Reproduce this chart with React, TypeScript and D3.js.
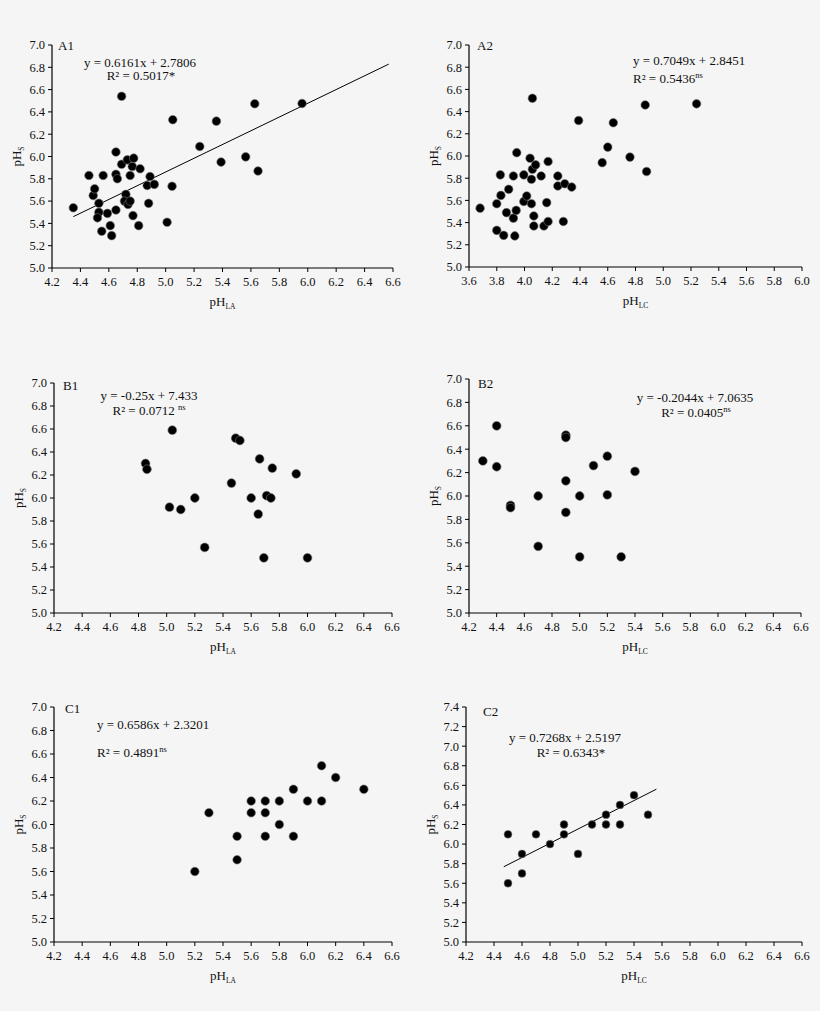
import React from 'react';
import * as d3 from 'd3';

// ---------- data ----------
const a1X = [4.35, 4.46, 4.49, 4.5, 4.53, 4.53, 4.52, 4.55, 4.56, 4.59, 4.61, 4.62, 4.65, 4.65, 4.66, 4.65, 4.69, 4.69, 4.72, 4.71, 4.735, 4.75, 4.73, 4.75, 4.765, 4.775, 4.77, 4.81, 4.82, 4.87, 4.89, 4.88, 4.92, 5.01, 5.045, 5.05, 5.24, 5.357, 5.39, 5.563, 5.65, 5.627, 5.96];
const a1Y = [5.54, 5.83, 5.65, 5.71, 5.58, 5.5, 5.45, 5.33, 5.83, 5.49, 5.38, 5.29, 5.52, 5.84, 5.8, 6.04, 6.54, 5.93, 5.66, 5.6, 5.57, 5.6, 5.97, 5.83, 5.91, 5.985, 5.47, 5.38, 5.89, 5.74, 5.82, 5.58, 5.75, 5.41, 5.733, 6.33, 6.09, 6.317, 5.95, 5.997, 5.87, 6.473, 6.476];

const a2X = [3.68, 3.8, 3.826, 3.83, 3.8, 3.85, 3.886, 3.87, 3.92, 3.92, 3.94, 3.93, 3.944, 3.995, 3.995, 4.016, 4.04, 4.05, 4.05, 4.057, 4.057, 4.08, 4.067, 4.067, 4.12, 4.14, 4.17, 4.16, 4.17, 4.24, 4.24, 4.29, 4.34, 4.28, 4.39, 4.56, 4.6, 4.64, 4.76, 4.87, 4.88, 5.24];
const a2Y = [5.53, 5.57, 5.83, 5.645, 5.33, 5.285, 5.7, 5.49, 5.82, 5.44, 5.51, 5.28, 6.03, 5.83, 5.59, 5.64, 5.98, 5.79, 5.57, 6.52, 5.88, 5.92, 5.46, 5.37, 5.82, 5.37, 5.95, 5.58, 5.41, 5.82, 5.73, 5.75, 5.72, 5.41, 6.32, 5.94, 6.08, 6.3, 5.99, 6.46, 5.86, 6.47];

const b1X = [4.85, 4.86, 5.04, 5.02, 5.1, 5.2, 5.27, 5.46, 5.49, 5.52, 5.6, 5.66, 5.65, 5.71, 5.74, 5.75, 5.69, 5.92, 6.0];
const b1Y = [6.3, 6.25, 6.59, 5.92, 5.9, 6.0, 5.57, 6.13, 6.52, 6.5, 6.0, 6.34, 5.86, 6.02, 6.0, 6.26, 5.48, 6.21, 5.48];

const b2X = [4.3, 4.4, 4.4, 4.5, 4.5, 4.7, 4.7, 4.9, 4.9, 4.9, 4.9, 5.0, 5.0, 5.1, 5.2, 5.2, 5.3, 5.4];
const b2Y = [6.3, 6.6, 6.25, 5.92, 5.9, 6.0, 5.57, 6.52, 6.5, 6.13, 5.86, 6.0, 5.48, 6.26, 6.34, 6.01, 5.48, 6.21];

const c1X = [5.2, 5.3, 5.5, 5.5, 5.6, 5.6, 5.7, 5.7, 5.7, 5.8, 5.8, 5.9, 5.9, 6.0, 6.1, 6.1, 6.2, 6.4];
const c1Y = [5.6, 6.1, 5.9, 5.7, 6.2, 6.1, 6.2, 6.1, 5.9, 6.2, 6.0, 6.3, 5.9, 6.2, 6.5, 6.2, 6.4, 6.3];

const c2X = [4.5, 4.5, 4.6, 4.6, 4.7, 4.8, 4.9, 4.9, 5.0, 5.1, 5.2, 5.2, 5.3, 5.3, 5.4, 5.5];
const c2Y = [6.1, 5.6, 5.9, 5.7, 6.1, 6.0, 6.2, 6.1, 5.9, 6.2, 6.3, 6.2, 6.4, 6.2, 6.5, 6.3];

const xTicksLA = [4.2, 4.4, 4.6, 4.8, 5.0, 5.2, 5.4, 5.6, 5.8, 6.0, 6.2, 6.4, 6.6];
const xTicksA2 = [3.6, 3.8, 4.0, 4.2, 4.4, 4.6, 4.8, 5.0, 5.2, 5.4, 5.6, 5.8, 6.0];
const yTicks70 = [5.0, 5.2, 5.4, 5.6, 5.8, 6.0, 6.2, 6.4, 6.6, 6.8, 7.0];
const yTicks74 = [5.0, 5.2, 5.4, 5.6, 5.8, 6.0, 6.2, 6.4, 6.6, 6.8, 7.0, 7.2, 7.4];

const equations = ['y = 0.6161x + 2.7806', 'y = 0.7049x + 2.8451', 'y = -0.25x + 7.433', 'y = -0.2044x + 7.0635', 'y = 0.6586x + 2.3201', 'y = 0.7268x + 2.5197'];
const r2Values = ['R² = 0.5017', 'R² = 0.5436', 'R² = 0.0712 ', 'R² = 0.0405', 'R² = 0.4891', 'R² = 0.6343'];
const r2Marks = ['*', 'ns', 'ns', 'ns', 'ns', '*'];

const a1Fit = { slope: 0.6161, intercept: 2.7806, from: 4.35, to: 6.57 };
const c2Fit = { slope: 0.7268, intercept: 2.5197, from: 4.47, to: 5.56 };

// ---------- layout ----------
type Fit = { slope: number; intercept: number; from: number; to: number } | null;
interface Panel {
  id: string; xs: number[]; ys: number[]; xTicks: number[]; yTicks: number[]; sub: string;
  left: number; right: number; top: number; bottom: number;
  labelDx: number; labelDy: number;
  eqAnchor: 'start' | 'middle'; eqX: number; eqY: number; r2X: number; r2Y: number;
  fit: Fit; idx: number; r: number;
}

const panels: Panel[] = [
  { id: 'A1', xs: a1X, ys: a1Y, xTicks: xTicksLA, yTicks: yTicks70, sub: 'LA', left: 52, right: 393, top: 45, bottom: 268, labelDx: 6, labelDy: 5, eqAnchor: 'middle', eqX: 140, eqY: 67, r2X: 141, r2Y: 80, fit: a1Fit, idx: 0, r: 4.3 },
  { id: 'A2', xs: a2X, ys: a2Y, xTicks: xTicksA2, yTicks: yTicks70, sub: 'LC', left: 469, right: 802, top: 45, bottom: 267, labelDx: 8, labelDy: 5, eqAnchor: 'start', eqX: 633, eqY: 65, r2X: 633, r2Y: 83, fit: null, idx: 1, r: 4.3 },
  { id: 'B1', xs: b1X, ys: b1Y, xTicks: xTicksLA, yTicks: yTicks70, sub: 'LA', left: 54, right: 392, top: 383, bottom: 613, labelDx: 9, labelDy: 7, eqAnchor: 'middle', eqX: 149, eqY: 400, r2X: 149, r2Y: 415, fit: null, idx: 2, r: 4.4 },
  { id: 'B2', xs: b2X, ys: b2Y, xTicks: xTicksLA, yTicks: yTicks70, sub: 'LC', left: 469, right: 801, top: 379, bottom: 613, labelDx: 9, labelDy: 9, eqAnchor: 'middle', eqX: 695, eqY: 402, r2X: 696, r2Y: 417, fit: null, idx: 3, r: 4.4 },
  { id: 'C1', xs: c1X, ys: c1Y, xTicks: xTicksLA, yTicks: yTicks70, sub: 'LA', left: 54, right: 392, top: 707, bottom: 942, labelDx: 11, labelDy: 6, eqAnchor: 'start', eqX: 97, eqY: 729, r2X: 97, r2Y: 757, fit: null, idx: 4, r: 4.3 },
  { id: 'C2', xs: c2X, ys: c2Y, xTicks: xTicksLA, yTicks: yTicks74, sub: 'LC', left: 466, right: 802, top: 707, bottom: 942, labelDx: 17, labelDy: 9, eqAnchor: 'middle', eqX: 565, eqY: 742, r2X: 571, r2Y: 757, fit: c2Fit, idx: 5, r: 3.9 },
];

const FONT = '"Liberation Serif", "Times New Roman", serif';
const fmt = d3.format('.1f');

function PanelView({ p }: { p: Panel }) {
  const xs = d3.scaleLinear().domain([p.xTicks[0], p.xTicks[p.xTicks.length - 1]]).range([p.left, p.right]);
  const ys = d3.scaleLinear().domain([p.yTicks[0], p.yTicks[p.yTicks.length - 1]]).range([p.bottom, p.top]);
  const line = d3.line<number>().x((d) => xs(d)).y((d) => ys(p.fit ? p.fit.slope * d + p.fit.intercept : 0));
  const midX = (p.left + p.right) / 2;
  const midY = (p.top + p.bottom) / 2;
  const mark = r2Marks[p.idx];
  return (
    <g fontFamily={FONT} fill="#111">
      {/* axes */}
      <line x1={p.left} x2={p.left} y1={p.top} y2={p.bottom} stroke="#000" strokeWidth={1.2} />
      <line x1={p.left} x2={p.right} y1={p.bottom} y2={p.bottom} stroke="#000" strokeWidth={1.2} />
      {p.yTicks.map((t) => (
        <g key={'y' + t}>
          <line x1={p.left - 4} x2={p.left} y1={ys(t)} y2={ys(t)} stroke="#000" strokeWidth={1} />
          <text x={p.left - 7} y={ys(t)} dy="0.35em" textAnchor="end" fontSize={12.5}>{fmt(t)}</text>
        </g>
      ))}
      {p.xTicks.map((t) => (
        <g key={'x' + t}>
          <line x1={xs(t)} x2={xs(t)} y1={p.bottom} y2={p.bottom + 4} stroke="#000" strokeWidth={1} />
          <text x={xs(t)} y={p.bottom + 18} textAnchor="middle" fontSize={12.5}>{fmt(t)}</text>
        </g>
      ))}
      {/* axis titles */}
      <text x={midX} y={p.bottom + 38} textAnchor="middle" fontSize={13}>
        pH<tspan fontSize={7.5} dy={3}>{p.sub}</tspan>
      </text>
      <text transform={`translate(${p.left - 31},${midY}) rotate(-90)`} textAnchor="middle" fontSize={13}>
        pH<tspan fontSize={7.5} dy={3}>S</tspan>
      </text>
      {/* panel label */}
      <text x={p.left + p.labelDx} y={p.top + p.labelDy} fontSize={13}>{p.id}</text>
      {/* fit line */}
      {p.fit && (
        <path d={line([p.fit.from, p.fit.to]) || ''} stroke="#000" strokeWidth={1} fill="none" />
      )}
      {/* points */}
      {p.xs.map((x, i) => (
        <circle key={i} cx={xs(x)} cy={ys(p.ys[i])} r={p.r} fill="#000" stroke="#777" strokeWidth={0.6} />
      ))}
      {/* equations */}
      <text x={p.eqX} y={p.eqY} textAnchor={p.eqAnchor} fontSize={13}>{equations[p.idx]}</text>
      <text x={p.r2X} y={p.r2Y} textAnchor={p.eqAnchor} fontSize={13}>
        {r2Values[p.idx]}
        {mark === '*' ? <tspan>*</tspan> : <tspan fontSize={8.5} dy={-5}>{mark}</tspan>}
      </text>
    </g>
  );
}

export default function App() {
  return (
    <svg width={820} height={1011} style={{ position: 'absolute', left: 0, top: 0, background: '#f5f5f5' }}>
      <rect x={0} y={0} width={820} height={1011} fill="#f5f5f5" />
      {panels.map((p) => (
        <PanelView key={p.id} p={p} />
      ))}
    </svg>
  );
}
